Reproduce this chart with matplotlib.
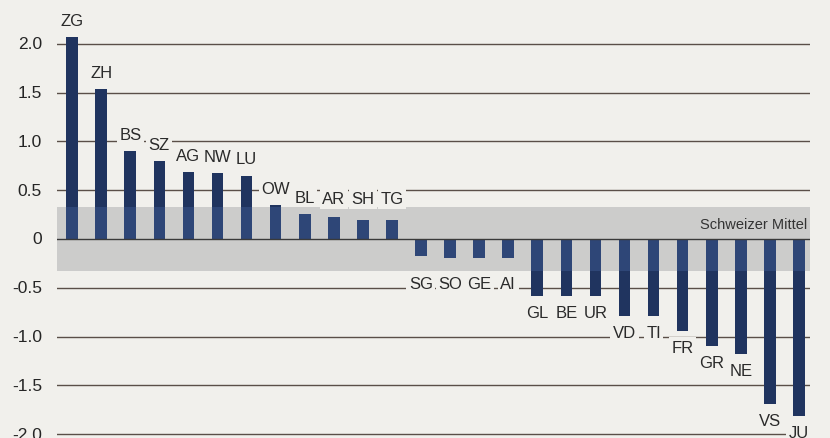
import numpy as np
import matplotlib
matplotlib.use('Agg')
import matplotlib.pyplot as plt

plt.rcParams['font.family'] = ['Liberation Sans', 'DejaVu Sans']

# cantons, sorted by value
cantons = ['ZG', 'ZH', 'BS', 'SZ', 'AG', 'NW', 'LU', 'OW', 'BL', 'AR', 'SH', 'TG',
           'SG', 'SO', 'GE', 'AI', 'GL', 'BE', 'UR', 'VD', 'TI', 'FR', 'GR', 'NE', 'VS', 'JU']
values = [2.07, 1.54, 0.90, 0.80, 0.69, 0.68, 0.65, 0.35, 0.26, 0.23, 0.19, 0.19,
          -0.17, -0.20, -0.20, -0.20, -0.58, -0.58, -0.58, -0.79, -0.79, -0.94, -1.10, -1.18, -1.69, -1.81]
band = 0.33  # "Schweizer Mittel" range
yticks = [2.0, 1.5, 1.0, 0.5, 0, -0.5, -1.0, -1.5, -2.0]
ytick_labels = ['2.0', '1.5', '1.0', '0.5', '0', '-0.5', '-1.0', '-1.5', '-2.0']

paper = '#f1f0ec'
bar_dark = '#20345f'
line_col = '#5a4f48'

fig = plt.figure(figsize=(8.30, 4.39), dpi=100)
fig.patch.set_facecolor(paper)
ax = fig.add_axes([57/830, 0, (810-57)/830, 1])
ax.set_facecolor(paper)

x = np.arange(len(cantons))
ax.set_xlim(-0.52, 25.38)
ax.set_ylim(-2.04, 2.46)

# grid lines
for t in yticks:
    if t != 0:
        ax.axhline(t, color=line_col, lw=1.0, zorder=1)

ax.bar(x, values, width=0.4, color=bar_dark, zorder=2)
# translucent band over the bars
ax.axhspan(-band, band, color='#c6c6c6', alpha=0.85, zorder=3, lw=0)
ax.bar(x, [np.clip(v, -band, band) for v in values], width=0.4, color='#2e4677', zorder=4)
ax.axhline(0, color='#3a3a3a', lw=1.0, zorder=5)

ax.text(25.3, 0.15, 'Schweizer Mittel', ha='right', va='center', fontsize=10.5,
        color='#333333', zorder=6)

for xi, v, c in zip(x, values, cantons):
    if v > 0:
        ly = max(v, 0.24) + 0.17
    else:
        ly = min(v, -0.29) - 0.17
    ax.text(xi, ly, c, ha='center', va='center', fontsize=12, color='#2a2a2a', zorder=6,
            bbox=dict(boxstyle='square,pad=0.15', fc=paper, ec='none'))

for t, lab in zip(yticks, ytick_labels):
    fig.text(42/830, ax.transData.transform((0, t))[1] / 439, lab, ha='right', va='center',
             fontsize=12.5, color='#252525')

for s in ax.spines.values():
    s.set_visible(False)
ax.set_xticks([])
ax.set_yticks([])

fig.savefig('out.png', dpi=100, facecolor=paper)
